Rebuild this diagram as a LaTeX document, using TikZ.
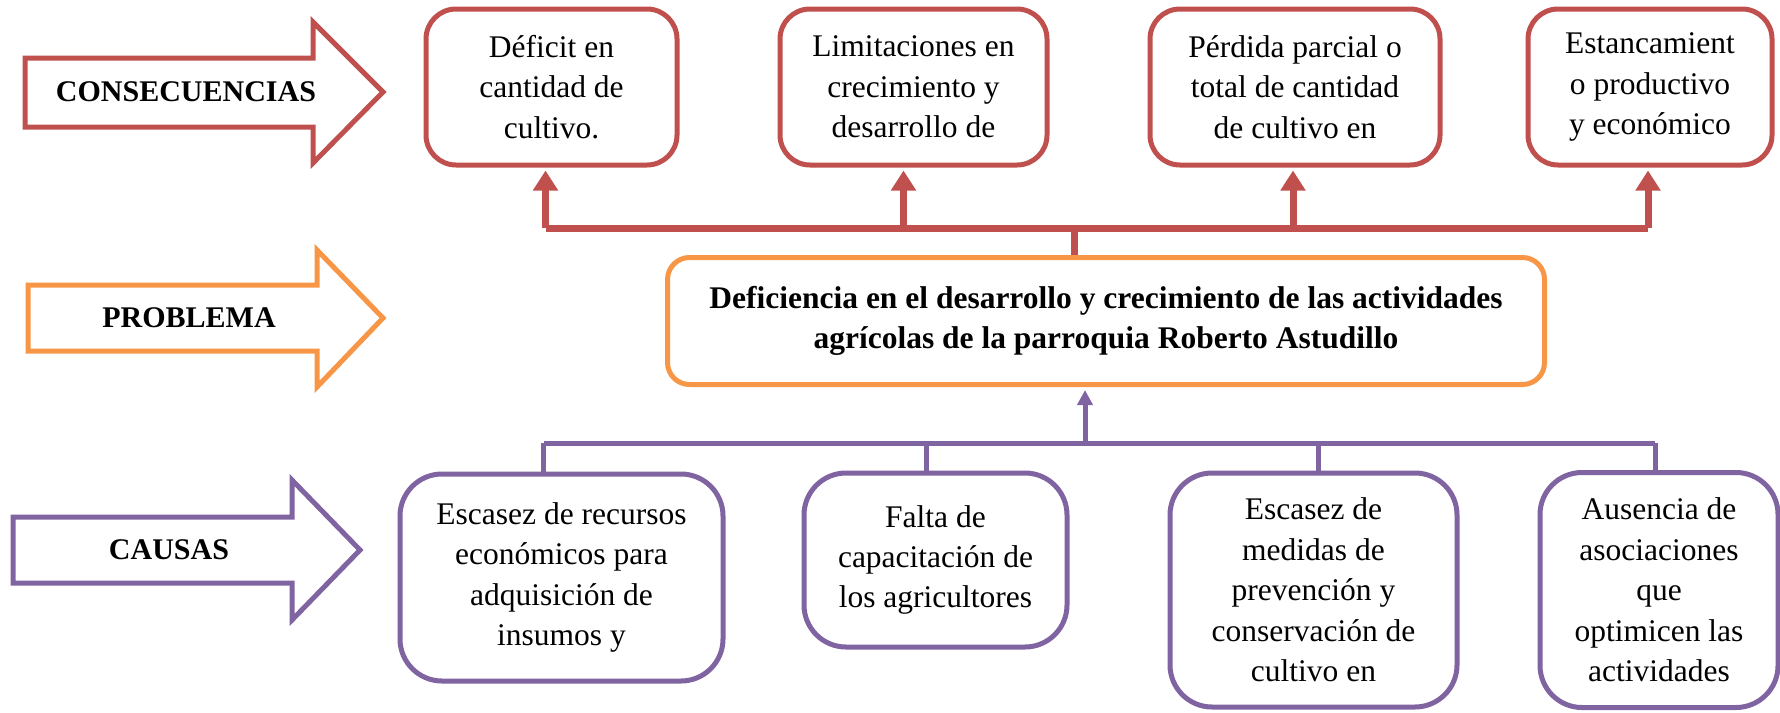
\documentclass[tikz,border=0pt]{standalone}
\usepackage{fontspec}
\setmainfont{Liberation Serif}
\usepackage{xcolor}
\usetikzlibrary{arrows.meta}

\definecolor{consred}{HTML}{C0504D}
\definecolor{probor}{HTML}{F79646}
\definecolor{causpur}{HTML}{8064A2}
\newcommand{\diagfont}{\fontsize{15.75}{20.2}\selectfont}
\newcommand{\labfont}{\fontsize{15}{18}\selectfont\bfseries}

\begin{document}
\begin{tikzpicture}[
x=0.5pt, y=-0.5pt,
consbox/.style={rectangle, rounded corners=15pt, draw=consred, line width=2.5pt, align=center, font=\diagfont},
probbox/.style={rectangle, rounded corners=11pt, draw=probor, line width=2.5pt, align=center, font=\diagfont\bfseries},
causbox/.style={rectangle, rounded corners=21pt, draw=causpur, line width=2.5pt, align=center, font=\diagfont},
sidearrow/.style={line width=2.5pt, line join=miter},
sidelabel/.style={font=\labfont},
redline/.style={draw=consred, line width=3.5pt},
redarrow/.style={redline, -{Triangle[length=10pt, width=12pt]}, shorten >=1.5pt},
purline/.style={draw=causpur, line width=2.5pt},
purarrow/.style={purline, -{Triangle[length=7.5pt, width=7.5pt]}, shorten >=1.5pt}
]
\useasboundingbox (0,0) rectangle (1780,712);

% side arrows
\draw[sidearrow, draw=consred] (25,58) -- (313,58) -- (313,22) -- (383,92) -- (313,163) -- (313,127) -- (25,127) -- cycle;
\draw[sidearrow, draw=probor] (28,285) -- (317,285) -- (317,250) -- (383,318) -- (317,387) -- (317,351) -- (28,351) -- cycle;
\draw[sidearrow, draw=causpur] (13,517) -- (292,517) -- (292,480) -- (360,550) -- (292,620) -- (292,583) -- (13,583) -- cycle;
\node[sidelabel] (lcons) at (186,92) {CONSECUENCIAS};
\node[sidelabel] (lprob) at (189,318) {PROBLEMA};
\node[sidelabel] (lcaus) at (169,550) {CAUSAS};

% consecuencias
\node[consbox, minimum width=125.5pt, minimum height=78pt] (c1) at (551.5,87) {Déficit en\\cantidad de\\cultivo.};
\node[consbox, minimum width=133.5pt, minimum height=78pt] (c2) at (913.5,87) {Limitaciones en\\crecimiento y\\desarrollo de};
\node[consbox, minimum width=145pt, minimum height=78pt] (c3) at (1295,87) {Pérdida parcial o\\total de cantidad\\de cultivo en};
\node[consbox, minimum width=122pt, minimum height=78pt] (c4) at (1650,87) {Estancamient\\o productivo\\y económico};

% problema
\node[probbox, minimum width=438.5pt, minimum height=63.5pt] (prob) at (1106,321) {Deficiencia en el desarrollo y crecimiento de las actividades\\agrícolas de la parroquia Roberto Astudillo};

% causas
\node[causbox, minimum width=161.5pt, minimum height=103.5pt] (k1) at (561.5,577.5) {Escasez de recursos\\económicos para\\adquisición de\\insumos y};
\node[causbox, minimum width=131.5pt, minimum height=87pt] (k2) at (935.5,560) {Falta de\\capacitación de\\los agricultores};
\node[causbox, minimum width=143.5pt, minimum height=117pt] (k3) at (1313.5,590) {Escasez de\\medidas de\\prevención y\\conservación de\\cultivo en};
\node[causbox, minimum width=119pt, minimum height=117.5pt] (k4) at (1659,590) {Ausencia de\\asociaciones\\que\\optimicen las\\actividades};

% connectors
\coordinate (redbar) at (1074,228);
\coordinate (purbar) at (1085,443);
\draw[redline] ([xshift=-3pt]c1.south |- redbar) -- ([xshift=-1pt]c4.south |- redbar);
\draw[redline] (redbar) -- (redbar |- prob.north);
\foreach \c/\dx in {c1/-3pt, c2/-5pt, c3/-1pt, c4/-1pt}
  \draw[redarrow] ([xshift=\dx]\c.south |- redbar) -- ([xshift=\dx]\c.south);
\draw[purline] ([xshift=-9pt]k1.north |- purbar) -- ([xshift=-2pt]k4.north |- purbar);
\draw[purarrow] (purbar) -- (purbar |- prob.south);
\foreach \k/\dx in {k1/-9pt, k2/-4.5pt, k3/2.5pt, k4/-2pt}
  \draw[purline] ([xshift=\dx]\k.north |- purbar) -- ([xshift=\dx]\k.north);

\end{tikzpicture}
\end{document}
